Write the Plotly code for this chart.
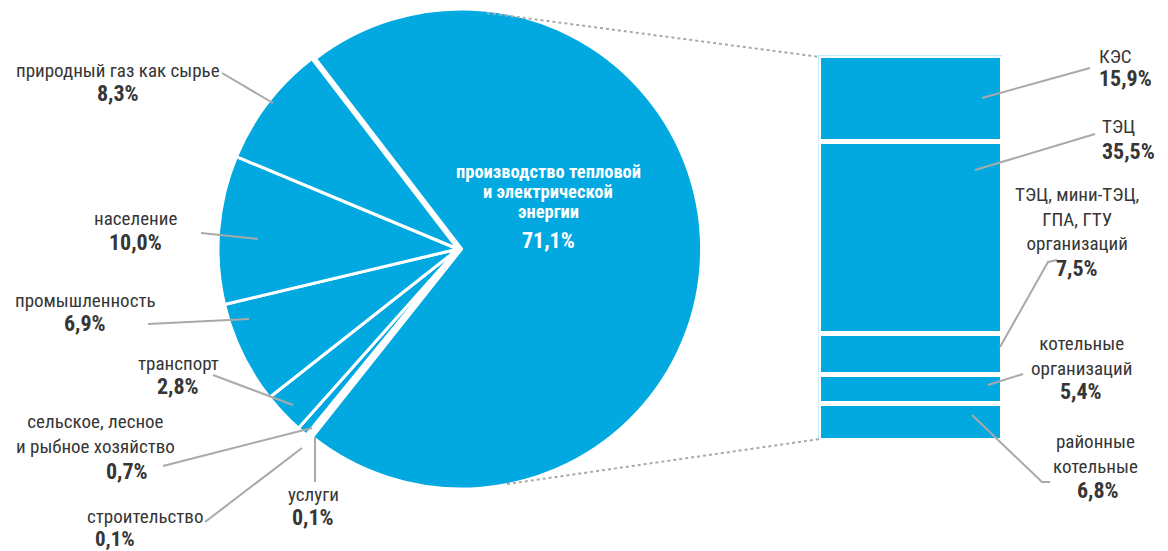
import plotly.graph_objects as go

W, H = 1168, 551

# ---- data ----
pie_labels = ["производство тепловой и электрической энергии", "услуги", "строительство",
              "сельское, лесное и рыбное хозяйство", "транспорт", "промышленность",
              "население", "природный газ как сырье"]
pie_values = [71.1, 0.1, 0.1, 0.7, 2.8, 6.9, 10.0, 8.3]
pie_pull = [0.015, 0, 0, 0, 0, 0, 0, 0]

bar_labels = ["районные котельные", "котельные организаций",
              "ТЭЦ, мини-ТЭЦ, ГПА, ГТУ организаций", "ТЭЦ", "КЭС"]
bar_values = [6.8, 5.4, 7.5, 35.5, 15.9]

BLUE = "#02A9E1"
TXT = "#363636"
LINE = "#a9a9a9"
FONT = "Liberation Sans Narrow, Roboto Condensed, DejaVu Sans Condensed, Arial Narrow, sans-serif"


def px(x, y):
    return x / W, 1 - y / H


fig = go.Figure()

fig.add_trace(go.Pie(
    labels=pie_labels, values=pie_values, pull=pie_pull,
    sort=False, direction="clockwise", rotation=-37.5,
    marker=dict(colors=[BLUE] * len(pie_values), line=dict(color="white", width=3)),
    textinfo="none", hoverinfo="label+value", showlegend=False,
    domain=dict(x=[214.4 / W, 701.6 / W], y=[1 - 492.6 / H, 1 - 5.4 / H]),
))

for lab, val in zip(bar_labels, bar_values):
    fig.add_trace(go.Bar(
        x=[0], y=[val], name=lab, width=1,
        marker=dict(color=BLUE, line=dict(color="white", width=5)),
        xaxis="x2", yaxis="y2", showlegend=False, hoverinfo="name+y",
    ))

shapes = []


def seg(points, dash="solid"):
    d = "M " + " L ".join(f"{px(x, y)[0]},{px(x, y)[1]}" for x, y in points)
    shapes.append(dict(type="path", path=d, xref="paper", yref="paper",
                       line=dict(color=LINE, width=2, dash=dash)))


# leader lines (pixel positions)
seg([(222, 73), (273, 103)])
seg([(201, 233), (258, 239)])
seg([(148, 324), (249, 319)])
seg([(213, 375), (293, 405)])
seg([(163, 466), (312, 428)])
seg([(205, 522), (302, 448)])
seg([(315, 437), (315, 482)])
seg([(982, 98), (1090, 68)])
seg([(975, 170), (1095, 134)])
seg([(1000, 347), (1048, 262), (1057, 260)])
seg([(988, 385), (1023, 374)])
seg([(972, 415), (1042, 482), (1050, 482)])
# dotted connectors
seg([(487, 13), (820, 57)], dash="dot")
seg([(507, 484), (820, 439)], dash="dot")

ann = []


def text(x, y, s, size=19, bold=False, color=TXT, xanchor="center"):
    xx, yy = px(x, y)
    ann.append(dict(x=xx, y=yy, xref="paper", yref="paper", text=(f"<b>{s}</b>" if bold else s),
                    showarrow=False, xanchor=xanchor, yanchor="middle",
                    font=dict(family=FONT, size=size, color=color)))


P = 22
# left labels
text(118, 70, "природный газ как сырье")
text(118, 93, "8,3%", P, True)
text(135, 218, "население")
text(135, 242, "10,0%", P, True)
text(85, 300, "промышленность")
text(85, 323, "6,9%", P, True)
text(178, 363, "транспорт")
text(178, 386, "2,8%", P, True)
text(95, 434, "сельское, лесное<br>и рыбное хозяйство")
text(127, 471, "0,7%", P, True)
text(145, 516, "строительство")
text(115, 539, "0,1%", 21, True)
text(313, 494, "услуги")
text(313, 517, "0,1%", P, True)

# center label
text(548, 172, "производство тепловой", 18.5, True, "white")
text(548, 192, "и электрической", 18.5, True, "white")
text(548, 212, "энергии", 18.5, True, "white")
text(548, 240, "71,1%", 22, True, "white")

# right labels
text(1115, 57, "КЭС")
text(1125, 79, "15,9%", P, True)
text(1118, 127, "ТЭЦ")
text(1128, 151, "35,5%", P, True)
text(1077, 219, "ТЭЦ, мини-ТЭЦ,<br>ГПА, ГТУ<br>организаций")
text(1077, 268, "7,5%", P, True)
text(1081, 356, "котельные<br>организаций")
text(1081, 391, "5,4%", P, True)
text(1095, 454, "районные<br>котельные")
text(1098, 490, "6,8%", P, True)

fig.update_layout(
    width=W, height=H, margin=dict(l=0, r=0, t=0, b=0),
    paper_bgcolor="white", plot_bgcolor="white",
    barmode="stack", bargap=0,
    xaxis2=dict(domain=[818.5 / W, 1002.5 / W], range=[-0.5, 0.5], visible=False, fixedrange=True),
    yaxis2=dict(domain=[1 - 440.5 / H, 1 - 55.5 / H], range=[0, sum(bar_values)], visible=False, fixedrange=True),
    xaxis=dict(visible=False), yaxis=dict(visible=False),
    shapes=shapes, annotations=ann, showlegend=False,
)

fig.write_html("out.html")
